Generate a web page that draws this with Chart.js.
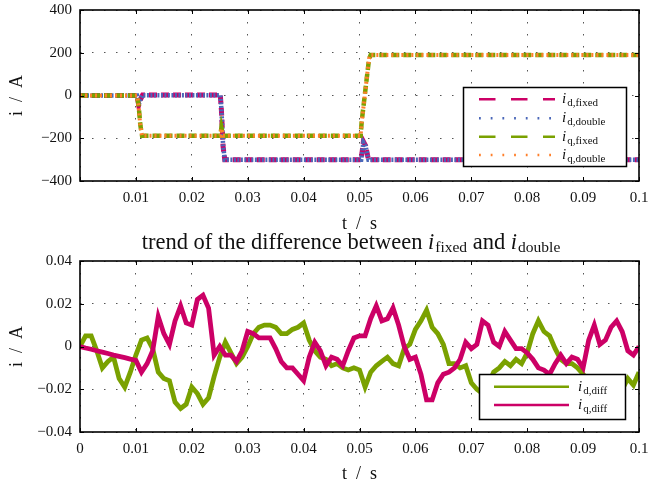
<!DOCTYPE html>
<html>
<head>
<meta charset="utf-8">
<script src="https://cdn.jsdelivr.net/npm/chart.js@4.4.1/dist/chart.umd.min.js"></script>
<style>
  body { margin: 0; background: #fff; }
  canvas { position: absolute; left: 0; }
  #top { top: 0; }
  #bottom { top: 232px; }
</style>
</head>
<body>
<canvas id="top" width="648" height="232"></canvas>
<canvas id="bottom" width="648" height="256"></canvas>
<script>
// ---- top plot: d/q currents, fixed vs double precision ----
const tD = [0, 0.0102, 0.0105, 0.0108, 0.0112, 0.0251, 0.0253, 0.0256, 0.0259, 0.0503, 0.0507, 0.0511, 0.0516, 0.1];
const idFixed  = [0, 0, -45, -20, 2, 2, -70, -240, -300, -300, -215, -235, -300, -300];
const idDouble = [0, 0, -42, -18, 1, 1, -65, -235, -300, -300, -220, -238, -300, -300];

const tQ = [0, 0.0102, 0.0105, 0.0108, 0.0111, 0.0251, 0.0253, 0.0256, 0.0502, 0.0504, 0.0517, 0.0520, 0.1];
const iqFixed  = [0, 0, -50, -140, -188, -188, -150, -188, -188, -120, 170, 190, 190];
const iqDouble = [0, 0, -55, -145, -188, -188, -155, -188, -188, -125, 172, 190, 190];

const topYTicks = [-400, -200, 0, 200, 400];
const topYLabels = ['\u2212400', '\u2212200', '0', '200', '400'];

// ---- bottom plot: difference, sampled every 1 ms ----
const DT = 0.001;
const idDiff = [
  0.000, 0.005, 0.005, -0.002, -0.010, -0.007, -0.005, -0.015, -0.019, -0.012,
  -0.004, 0.003, 0.004, -0.001, -0.012, -0.015, -0.016, -0.026, -0.029, -0.027,
  -0.019, -0.022, -0.027, -0.024, -0.014, -0.005, 0.002, -0.003, -0.008, -0.005,
  0.000, 0.006, 0.009, 0.010, 0.010, 0.009, 0.006, 0.006, 0.008, 0.009,
  0.011, 0.003, -0.002, -0.005, -0.006, -0.009, -0.008, -0.010, -0.011, -0.010,
  -0.011, -0.019, -0.012, -0.009, -0.007, -0.005, -0.008, -0.009, -0.001, 0.001,
  0.008, 0.012, 0.017, 0.009, 0.006, 0.001, -0.008, -0.008, -0.010, -0.009,
  -0.017, -0.020, -0.022, -0.018, -0.012, -0.010, -0.007, -0.009, -0.006, -0.008,
  -0.003, 0.006, 0.012, 0.007, 0.005, -0.001, -0.006, -0.008, -0.008, -0.010,
  -0.013, -0.016, -0.018, -0.020, -0.018, -0.019, -0.021, -0.020, -0.015, -0.018,
  -0.012
];
const iqDiff = [
  0.000, -0.0007, -0.0013, -0.0020, -0.0026, -0.0033, -0.0040, -0.0046, -0.0052, -0.0059,
  -0.0065, -0.012, -0.008, -0.002, 0.014, 0.006, 0.001, 0.012, 0.019, 0.011,
  0.010, 0.022, 0.024, 0.018, -0.004, 0.000, -0.004, -0.004, -0.007, -0.002,
  0.007, 0.006, 0.004, 0.004, 0.004, -0.001, -0.007, -0.010, -0.010, -0.013,
  -0.016, -0.005, 0.002, -0.002, -0.009, -0.005, -0.006, -0.009, -0.002, 0.004,
  0.005, 0.005, 0.013, 0.019, 0.012, 0.013, 0.018, 0.010, 0.000, -0.006,
  -0.005, -0.013, -0.025, -0.025, -0.017, -0.013, -0.012, -0.010, -0.006, 0.002,
  -0.001, 0.001, 0.012, 0.010, 0.002, 0.000, 0.007, 0.003, -0.001, -0.001,
  -0.003, -0.006, -0.010, -0.011, -0.013, -0.008, -0.004, -0.008, -0.005, -0.006,
  -0.010, 0.003, 0.010, 0.001, 0.003, 0.009, 0.012, 0.007, -0.002, -0.004,
  0.000
];

const botYTicks = [-0.04, -0.02, 0, 0.02, 0.04];
const botYLabels = ['\u22120.04', '\u22120.02', '0', '0.02', '0.04'];

const xTicks = [0, 0.01, 0.02, 0.03, 0.04, 0.05, 0.06, 0.07, 0.08, 0.09, 0.1];
const xLabels = ['0', '0.01', '0.02', '0.03', '0.04', '0.05', '0.06', '0.07', '0.08', '0.09', '0.1'];
const xLabelsTop = ['', '0.01', '0.02', '0.03', '0.04', '0.05', '0.06', '0.07', '0.08', '0.09', '0.1'];

const MAGENTA = '#cc0066', BLUE = '#4a67b8', GREEN = '#7aa100', ORANGE = '#ff7f2a';
const SERIF = '"Liberation Serif", "DejaVu Serif", serif';

const pts = (xs, ys) => ys.map((v, i) => ({ x: xs[i], y: v }));
const sampled = ys => ys.map((v, i) => ({ x: +(i * DT).toFixed(3), y: v }));

// math-ish label: italic i with a subscript, returns width
function mathI(ctx, x, base, sub, size, subSize) {
  ctx.font = `italic ${size}px ${SERIF}`;
  ctx.fillText('i', x, base);
  const w = ctx.measureText('i').width + 1;
  ctx.font = `${subSize}px ${SERIF}`;
  ctx.fillText(sub, x + w, base + 3);
  return w + ctx.measureText(sub).width;
}

const framePlugin = {
  id: 'frame',
  afterDatasetsDraw(chart) {
    const { ctx, chartArea: a, scales: { x, y } } = chart;
    ctx.save();
    ctx.strokeStyle = '#000';
    ctx.lineWidth = 1;
    ctx.beginPath();
    x.ticks.forEach(t => {
      const p = Math.round(x.getPixelForValue(t.value)) + 0.5;
      ctx.moveTo(p, a.bottom); ctx.lineTo(p, a.bottom - 4);
      ctx.moveTo(p, a.top); ctx.lineTo(p, a.top + 4);
    });
    y.ticks.forEach(t => {
      const p = Math.round(y.getPixelForValue(t.value)) + 0.5;
      ctx.moveTo(a.left, p); ctx.lineTo(a.left + 4, p);
      ctx.moveTo(a.right, p); ctx.lineTo(a.right - 4, p);
    });
    ctx.stroke();
    ctx.lineWidth = 1.6;
    ctx.strokeRect(a.left, a.top, a.right - a.left, a.bottom - a.top);
    ctx.restore();
  }
};

const topLegend = {
  id: 'topLegend',
  afterDraw(chart) {
    const ctx = chart.ctx;
    ctx.save();
    ctx.fillStyle = '#fff';
    ctx.fillRect(463.5, 87.5, 163, 79);
    ctx.strokeStyle = '#000';
    ctx.lineWidth = 1.5;
    ctx.strokeRect(463.5, 87.5, 163, 79);
    const rows = [
      { y: 99.3, c: MAGENTA, dash: [16.5, 15.5], sub: 'd,fixed' },
      { y: 118.3, c: BLUE, dash: [1.8, 9.9], sub: 'd,double' },
      { y: 136.7, c: GREEN, dash: [16.5, 15.5], sub: 'q,fixed' },
      { y: 155, c: ORANGE, dash: [1.8, 9.9], sub: 'q,double' }
    ];
    rows.forEach(r => {
      ctx.strokeStyle = r.c;
      ctx.lineWidth = 2.4;
      ctx.setLineDash(r.dash);
      ctx.beginPath();
      ctx.moveTo(479, r.y); ctx.lineTo(555, r.y);
      ctx.stroke();
      ctx.setLineDash([]);
      ctx.fillStyle = '#111';
      ctx.textBaseline = 'alphabetic';
      mathI(ctx, 562, r.y + 4, r.sub, 15, 11);
    });
    ctx.restore();
  }
};

const bottomDecor = {
  id: 'bottomDecor',
  afterDraw(chart) {
    const ctx = chart.ctx;
    ctx.save();
    // legend
    ctx.fillStyle = '#fff';
    ctx.fillRect(479.5, 142.5, 146, 45);
    ctx.strokeStyle = '#000';
    ctx.lineWidth = 1.5;
    ctx.strokeRect(479.5, 142.5, 146, 45);
    [{ y: 154.7, c: GREEN, sub: 'd,diff' }, { y: 173, c: MAGENTA, sub: 'q,diff' }].forEach(r => {
      ctx.strokeStyle = r.c;
      ctx.lineWidth = 2.4;
      ctx.beginPath();
      ctx.moveTo(494, r.y); ctx.lineTo(569, r.y);
      ctx.stroke();
      ctx.fillStyle = '#111';
      mathI(ctx, 578, r.y + 4, r.sub, 15, 11);
    });
    // title
    const big = 22.5, small = 15.5, base = 17;
    const parts = [
      { t: 'trend of the difference between ', f: `${big}px ${SERIF}`, dy: 0 },
      { t: 'i', f: `italic ${big}px ${SERIF}`, dy: 0, gap: 1 },
      { t: 'fixed', f: `${small}px ${SERIF}`, dy: 3 },
      { t: ' and ', f: `${big}px ${SERIF}`, dy: 0 },
      { t: 'i', f: `italic ${big}px ${SERIF}`, dy: 0, gap: 1 },
      { t: 'double', f: `${small}px ${SERIF}`, dy: 3 }
    ];
    let total = 0;
    parts.forEach(p => { ctx.font = p.f; p.w = ctx.measureText(p.t).width + (p.gap || 0); total += p.w; });
    let x = 351 - total / 2;
    ctx.fillStyle = '#111';
    parts.forEach(p => { ctx.font = p.f; ctx.fillText(p.t, x, base + p.dy); x += p.w; });
    ctx.restore();
  }
};

function makeScales(opts) {
  return {
    x: {
      type: 'linear', min: 0, max: 0.1,
      afterBuildTicks: s => { s.ticks = xTicks.map(v => ({ value: v })); },
      afterFit: s => { s.height = opts.xHeight; s.paddingLeft = 0; s.paddingRight = 0; },
      grid: { color: '#555', lineWidth: 1, drawTicks: false },
      border: { display: false, dash: [1.5, 10.5] },
      ticks: {
        padding: 8, maxRotation: 0, autoSkip: false,
        font: { family: SERIF, size: 15 }, color: '#111',
        callback: (v, i) => opts.xLabels[i]
      },
      title: {
        display: true, text: 't  /  s', color: '#111',
        font: { family: SERIF, size: 18 }, padding: { top: 0, bottom: opts.titlePad }
      }
    },
    y: {
      type: 'linear', min: opts.yTicks[0], max: opts.yTicks[opts.yTicks.length - 1],
      afterBuildTicks: s => { s.ticks = opts.yTicks.map(v => ({ value: v })); },
      afterFit: s => { s.width = 80; s.paddingTop = 0; s.paddingBottom = 0; },
      grid: { color: '#555', lineWidth: 1, drawTicks: false },
      border: { display: false, dash: [1.5, 10.5] },
      ticks: {
        padding: 8, font: { family: SERIF, size: 15 }, color: '#111',
        callback: (v, i) => opts.yLabels[i]
      },
      title: {
        display: true, text: 'i  /  A', color: '#111',
        font: { family: SERIF, size: 18 }, padding: { top: 6, bottom: 0 }
      }
    }
  };
}

const common = {
  responsive: false,
  animation: false,
  events: [],
  plugins: { legend: { display: false }, tooltip: { enabled: false } },
  elements: { point: { radius: 0 }, line: { tension: 0, borderCapStyle: 'butt' } }
};

new Chart(document.getElementById('top'), {
  type: 'line',
  data: {
    datasets: [
      { data: pts(tD, idFixed), borderColor: MAGENTA, borderWidth: 5, borderDash: [8, 4], order: 3 },
      { data: pts(tD, idDouble), borderColor: BLUE, borderWidth: 4.5, borderDash: [2, 1.5], order: 2 },
      { data: pts(tQ, iqFixed), borderColor: GREEN, borderWidth: 4.5, borderDash: [8, 4], order: 1 },
      { data: pts(tQ, iqDouble), borderColor: ORANGE, borderWidth: 4, borderDash: [2, 3], order: 0 }
    ]
  },
  options: {
    ...common,
    layout: { padding: { left: 0, right: 9, top: 10, bottom: 0 } },
    scales: makeScales({ xHeight: 51, xLabels: xLabelsTop, yTicks: topYTicks, yLabels: topYLabels, titlePad: -3 })
  },
  plugins: [framePlugin, topLegend]
});

new Chart(document.getElementById('bottom'), {
  type: 'line',
  data: {
    datasets: [
      { data: sampled(idDiff), borderColor: GREEN, borderWidth: 4.8, order: 1 },
      { data: sampled(iqDiff), borderColor: MAGENTA, borderWidth: 4.8, order: 0 }
    ]
  },
  options: {
    ...common,
    layout: { padding: { left: 0, right: 9, top: 29, bottom: 0 } },
    scales: makeScales({ xHeight: 56, xLabels: xLabels, yTicks: botYTicks, yLabels: botYLabels, titlePad: 3 })
  },
  plugins: [framePlugin, bottomDecor]
});
</script>
</body>
</html>
